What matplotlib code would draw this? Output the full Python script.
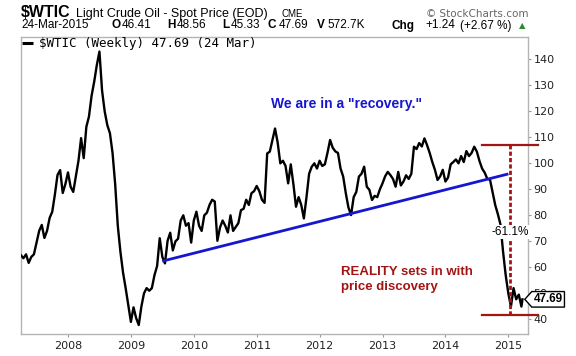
import numpy as np
import matplotlib.pyplot as plt
from matplotlib.path import Path

plt.rcParams['font.family'] = ['Liberation Sans', 'DejaVu Sans']

y2007 = [64.7, 63.5, 65.0, 61.7, 64.0, 65.0, 69.5, 74.0, 76.3, 71.3, 74.0, 79.0,
         81.4, 88.0, 95.5, 97.4, 88.6, 92.0]
y2008 = [96.5, 91.0, 89.0, 95.0, 101.0, 109.7, 102.0, 114.0, 118.0, 126.0, 131.4, 137.8,
         143.0, 128.0, 120.0, 114.7, 111.6, 104.0, 92.0, 76.0, 66.0, 58.0, 52.0, 45.5]
y2009 = [39.0, 44.6, 40.5, 37.8, 44.9, 50.0, 52.0, 51.0, 52.0, 57.0, 60.5, 71.2,
         64.0, 61.5, 70.2, 73.3, 66.5, 70.0, 71.0, 78.0, 80.0, 76.0, 77.0, 69.5]
y2010 = [78.0, 81.4, 76.0, 74.0, 80.0, 81.0, 84.0, 86.0, 85.3, 70.2, 75.3, 78.0,
         76.0, 73.4, 80.0, 74.0, 75.5, 77.0, 82.0, 82.5, 86.0, 84.0, 88.5, 89.3]
y2011 = [91.3, 89.3, 86.0, 84.8, 103.8, 104.5, 109.0, 113.4, 108.0, 100.0, 101.0, 99.0,
         92.3, 99.6, 92.0, 83.3, 87.0, 84.0, 78.8, 87.0, 96.0, 98.7, 100.0, 98.0]
y2012 = [101.0, 99.0, 99.6, 104.0, 109.0, 106.0, 104.6, 104.0, 98.0, 94.9, 88.5, 83.0,
         80.1, 87.0, 89.0, 94.9, 96.0, 98.7, 91.0, 89.8, 85.9, 87.5, 87.0, 90.0]
y2013 = [92.3, 95.0, 96.7, 95.5, 94.0, 91.0, 96.7, 91.5, 93.0, 95.4, 94.0, 96.0,
         106.4, 105.5, 107.8, 106.5, 109.6, 107.0, 104.0, 100.5, 97.5, 93.6, 95.0, 97.5]
y2014 = [93.0, 94.5, 99.6, 100.5, 101.5, 100.0, 102.8, 100.5, 104.7, 102.8, 104.0, 106.4,
         104.5, 100.9, 98.0, 96.4, 94.0, 93.8, 89.0, 84.0, 80.5, 76.5, 66.0, 57.0]
y2015 = [50.0, 44.9, 52.0, 47.7, 49.5, 44.9]
last_t, last_close = 2015.225, 47.69

# trend line and the drop markers
trend_t = [2009.52, 2014.98]
trend_y = [62.5, 95.8]
drop_top, drop_bottom = 106.9, 41.6
drop_t = 2015.027
drop_span = [2014.587, 2015.467]

years = list(range(2008, 2016))
price_ticks = list(range(40, 150, 10))

header_stats = [('O', '46.41'), ('H', '48.56'), ('L', '45.33'), ('C', '47.69'),
                ('V', '572.7K'), ('Chg', '+1.24')]

prices = y2007 + y2008 + y2009 + y2010 + y2011 + y2012 + y2013 + y2014 + y2015
t = list(2007.25 + np.arange(len(prices)) / 24) + [last_t]
prices = prices + [last_close]

RED = '#a31515'
BLUE = '#1616d0'
W, H = 576, 356


def tag_box(x0, y0, width, height, mutation_size):
    pad = mutation_size * 0.15
    x0, y0 = x0 - pad, y0 - pad
    x1, y1 = x0 + width + 2 * pad, y0 + height + 2 * pad
    tip = (y1 - y0) * 0.45
    return Path([(x0, y0), (x1, y0), (x1, y1), (x0, y1),
                 (x0 - tip, (y0 + y1) / 2), (x0, y0), (x0, y0)], closed=True)


fig = plt.figure(figsize=(W / 100, H / 100), dpi=100)
ax = fig.add_axes([21 / W, 22 / H, 507 / W, 297 / H])

ax.plot(t, prices, color='black', lw=1.7, zorder=3)
ax.plot(trend_t, trend_y, color=BLUE, lw=2.0, zorder=4)

ax.plot(drop_span, [drop_top] * 2, color=RED, lw=1.6, clip_on=False, zorder=4)
ax.plot(drop_span, [drop_bottom] * 2, color=RED, lw=1.6, clip_on=False, zorder=4)
ax.plot([drop_t] * 2, [drop_bottom, drop_top], color=RED, lw=2.0,
        dashes=(1.5, 0.8), zorder=4)
ax.text(drop_t, 73.6, '-61.1%', ha='center', va='center', fontsize=8.5,
        bbox=dict(boxstyle='square,pad=0.1', fc='white', ec='none'), zorder=5)

ax.text(2012.43, 122.8, 'We are in a "recovery."', color=BLUE, fontsize=10,
        fontweight='bold', ha='center', va='center')
ax.text(2012.34, 55.2, 'REALITY sets in with\nprice discovery', color=RED,
        fontsize=9.5, fontweight='bold', ha='left', va='center', linespacing=1.3)

ax.annotate(f'{last_close:.2f}', xy=(1, last_close), xycoords=('axes fraction', 'data'),
            xytext=(4, 0), textcoords='offset points', va='center', ha='left',
            fontsize=8.5, fontweight='bold', annotation_clip=False, zorder=10,
            bbox=dict(boxstyle=tag_box, fc='white', ec='black', lw=1))

# legend line inside the frame
ax.plot([0.002, 0.024], [0.979, 0.979], transform=ax.transAxes, color='black',
        lw=2.2, solid_capstyle='butt')
ax.text(0.036, 0.979, f'$WTIC (Weekly) {last_close:.2f} (24 Mar)', transform=ax.transAxes,
        family='DejaVu Sans Mono', fontsize=9, va='center', ha='left')

ax.set_xlim(2007.253, 2015.313)
ax.set_ylim(34.35, 148.6)
ax.set_xticks(years)
ax.set_xticklabels([str(y) for y in years])
ax.set_yticks(price_ticks)
ax.yaxis.tick_right()
ax.tick_params(axis='both', labelsize=8, labelcolor='#222222', color='#999999',
               length=2.5, width=0.8, labelfontfamily='DejaVu Sans')
ax.tick_params(axis='y', pad=1.5)
ax.tick_params(axis='x', pad=2.5)
for s in ax.spines.values():
    s.set_color('#b4b4b4')
    s.set_linewidth(1)

# header text
def px(x, y):
    return x / W, 1 - y / H

fig.text(*px(21, 17), '$WTIC', fontsize=11.5, fontweight='bold', va='baseline')
fig.text(*px(76, 17), 'Light Crude Oil - Spot Price (EOD)', fontsize=9, va='baseline')
fig.text(*px(282, 17), 'CME', fontsize=7, va='baseline')
fig.text(*px(528, 17), '\u00a9 StockCharts.com', fontsize=7.5, family='DejaVu Sans',
         color='#666666', ha='right', va='baseline')

fig.text(*px(21, 28.5), '24-Mar-2015', fontsize=8.5, va='baseline')
stat_x = [(111, 122), (167, 177), (222, 231), (268, 279), (316.5, 327.5), (392, 425)]
for (key, val), (kx, vx) in zip(header_stats, stat_x):
    fig.text(*px(kx, 28.5), key, fontsize=8.5, fontweight='bold', va='baseline')
    fig.text(*px(vx, 28.5), val, fontsize=8.5, va='baseline')
fig.text(*px(460, 28.5), '(+2.67 %)', fontsize=8.5, va='baseline')
fig.text(*px(519, 28.5), '\u25b2', fontsize=6, family='DejaVu Sans', color='#2e8b2e',
         va='baseline')

plt.savefig('out.png', dpi=100)
